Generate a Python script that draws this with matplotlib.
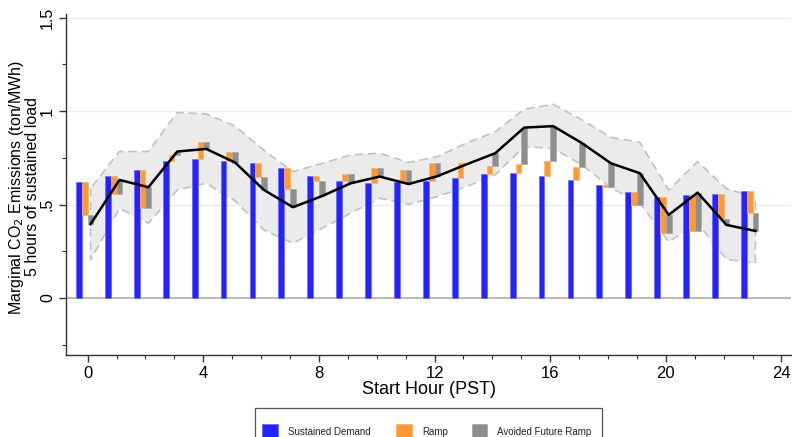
import matplotlib
matplotlib.use("Agg")
import matplotlib.pyplot as plt
from matplotlib.ticker import MultipleLocator, FixedLocator
from matplotlib.patches import Rectangle
import numpy as np

plt.rcParams['font.family'] = ['Liberation Sans', 'DejaVu Sans']

hours = list(range(24))
sustained = [0.620, 0.652, 0.684, 0.732, 0.743, 0.732, 0.725, 0.695, 0.652, 0.628, 0.618, 0.620,
             0.627, 0.641, 0.662, 0.668, 0.653, 0.632, 0.605, 0.566, 0.543, 0.552, 0.556, 0.575]
after_ramp = [0.445, 0.555, 0.480, 0.766, 0.837, 0.780, 0.646, 0.582, 0.627, 0.664, 0.698, 0.686,
              0.721, 0.721, 0.709, 0.718, 0.734, 0.700, 0.595, 0.498, 0.346, 0.359, 0.423, 0.454]
total = [0.395, 0.632, 0.593, 0.784, 0.798, 0.725, 0.578, 0.486, 0.545, 0.614, 0.650, 0.610,
         0.652, 0.715, 0.775, 0.912, 0.920, 0.829, 0.721, 0.668, 0.445, 0.564, 0.391, 0.359]
ci_upper = [0.587, 0.784, 0.784, 0.993, 0.985, 0.920, 0.790, 0.676, 0.720, 0.766, 0.775, 0.725,
            0.757, 0.829, 0.890, 1.010, 1.037, 0.953, 0.860, 0.833, 0.578, 0.730, 0.585, 0.540]
ci_lower = [0.204, 0.480, 0.400, 0.578, 0.614, 0.520, 0.364, 0.293, 0.373, 0.454, 0.534, 0.502,
            0.543, 0.596, 0.660, 0.810, 0.800, 0.712, 0.590, 0.510, 0.300, 0.400, 0.207, 0.186]

series_names = ["Sustained Demand", "Ramp", "Avoided Future Ramp"]
y_ticks = [0, 0.5, 1, 1.5]
y_ticklabels = ["0", ".5", "1", "1.5"]
x_ticks = [0, 4, 8, 12, 16, 20, 24]

c_blue = "#2323ff"
c_orange = "#ff9a33"
c_gray = "#8e8e8e"
e_blue = "#6a6aff"
e_orange = "#ffb36b"
e_gray = "#a8a8a8"

W, H = 792, 437
fig = plt.figure(figsize=(W/100, H/100), dpi=100)
ax = fig.add_axes([66/W, 1-355/H, (791-66)/W, (355-14)/H])

h = np.array(hours, dtype=float)
s = np.array(sustained)
r = np.array(after_ramp)
t = np.array(total)

# grid lines
for yv in [0.5, 1.0, 1.5]:
    ax.axhline(yv, color="#e6eeee", lw=1.0, zorder=0)
ax.axhline(0, color="#b4b4b4", lw=1.3, zorder=1)

# confidence band
ax.fill_between(h + 0.1, ci_lower, ci_upper, facecolor="#ebebeb", edgecolor="#c2c2c2",
                linestyle=(0, (5, 3)), linewidth=1.2, zorder=1)

w = 0.2
ax.bar(h - 0.3, s, width=w, bottom=0, color=c_blue, edgecolor=e_blue, linewidth=0.5, zorder=3)
ax.bar(h - 0.1, r - s, width=w, bottom=s, color=c_orange, edgecolor=e_orange, linewidth=0.5, zorder=3)
ax.bar(h + 0.1, t - r, width=w, bottom=r, color=c_gray, edgecolor=e_gray, linewidth=0.5, zorder=3)

ax.plot(h + 0.1, t, color="black", lw=1.8, zorder=4)

ax.set_xlim(-0.75, 24.33)
ax.set_ylim(-0.305, 1.52)

ax.spines['top'].set_visible(False)
ax.spines['right'].set_visible(False)
for sp in ['left', 'bottom']:
    ax.spines[sp].set_color("#333333")
    ax.spines[sp].set_linewidth(1.0)

ax.set_xticks(x_ticks)
ax.set_xticklabels([str(v) for v in x_ticks], fontsize=12)
ax.xaxis.set_minor_locator(MultipleLocator(1))
ax.set_yticks(y_ticks)
ax.set_yticklabels(y_ticklabels, fontsize=11.5, rotation=90, va='center')
ax.yaxis.set_minor_locator(FixedLocator([-0.25, 0.25, 0.75, 1.25]))
ax.tick_params(axis='both', which='major', length=5, width=1, color="#333333", pad=3)
ax.tick_params(axis='y', which='major', pad=3)
ax.tick_params(axis='both', which='minor', length=3, width=0.8, color="#333333")

ax.set_xlabel("Start Hour (PST)", fontsize=13, labelpad=0)

# two-line y title (single text object)
fig.text(40.5/W, 1-187/H, "Marginal CO$_2$ Emissions (ton/MWh)\n5 hours of sustained load",
         rotation=90, ha='right', va='center', multialignment='center',
         fontsize=11.5, linespacing=0.95)

# legend box (drawn in figure pixel positions)
def fx(px):
    return px / W

def fy(py):
    return 1 - py / H

fig.add_artist(Rectangle((fx(255), fy(446)), fx(602) - fx(255), fy(408) - fy(446),
                         transform=fig.transFigure, facecolor="white", edgecolor="#555555",
                         linewidth=0.9, clip_on=False))
legend_items = [(series_names[0], c_blue, e_blue, 262, 288),
                (series_names[1], c_orange, e_orange, 396, 422),
                (series_names[2], c_gray, e_gray, 472, 497)]
for name, fc, ec, px, tx in legend_items:
    fig.add_artist(Rectangle((fx(px), fy(439.5)), fx(px + 15.5) - fx(px), fy(423.5) - fy(439.5),
                             transform=fig.transFigure, facecolor=fc, edgecolor=ec,
                             linewidth=0.6))
    fig.text(fx(tx), fy(432), name, ha='left', va='center', fontsize=7, color="#222222")

fig.savefig("out.png", dpi=100)
